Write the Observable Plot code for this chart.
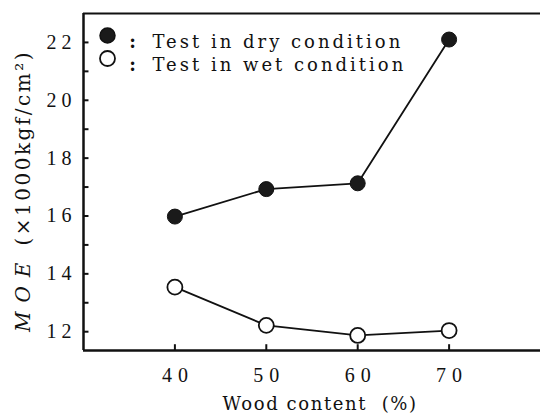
<!DOCTYPE html>
<html>
<head>
<meta charset="utf-8">
<script src="https://cdn.jsdelivr.net/npm/d3@7"></script>
<script src="https://cdn.jsdelivr.net/npm/@observablehq/plot@0.6"></script>
<style>
  html, body { margin: 0; padding: 0; background: #fff; }
  #chart svg { display: block; }
  g[aria-label="y-axis tick label"] text { letter-spacing: 5px; }
  g[aria-label="x-axis tick label"] text { letter-spacing: 6px; }
  .legend-text text { letter-spacing: 3px; }
  .xlabel text { letter-spacing: 1.6px; }
</style>
</head>
<body>
<div id="chart"></div>
<script>
// Data
const woodContent = [40, 50, 60, 70];
const moeDry = [15.98, 16.93, 17.13, 22.1];
const moeWet = [13.54, 12.22, 11.87, 12.04];
const seriesNames = ["Test in dry condition", "Test in wet condition"];
const xTicks = [40, 50, 60, 70];
const yMajorTicks = [12, 14, 16, 18, 20, 22];
const yMinorTicks = [13, 15, 17, 19, 21];
const xDomain = [30, 80];
const yDomain = [11.35, 23.0];
const xLabel = "Wood content  (%)";

const dry = woodContent.map((x, i) => ({x, y: moeDry[i]}));
const wet = woodContent.map((x, i) => ({x, y: moeWet[i]}));
const yTicksAll = [...yMajorTicks, ...yMinorTicks];

const serif = "'Liberation Serif', 'DejaVu Serif', serif";
const slab = "'DejaVu Serif', serif";
const ink = "#111";

const chart = Plot.plot({
  width: 540,
  height: 416,
  marginLeft: 83,
  marginRight: 0,
  marginTop: 13,
  marginBottom: 66,
  x: {domain: xDomain},
  y: {domain: yDomain},
  style: {fontFamily: serif, fontSize: "20px", color: ink, background: "#fff"},
  marks: [
    // frame lines (left, bottom, top)
    Plot.ruleX([xDomain[0]], {stroke: ink, strokeWidth: 2.5}),
    Plot.ruleY([yDomain[0]], {stroke: ink, strokeWidth: 2.5}),
    Plot.ruleY([yDomain[1]], {stroke: ink, strokeWidth: 2}),
    // inward ticks
    Plot.ruleY(yTicksAll, {y: d => d, x1: xDomain[0], x2: xDomain[0] + 0.6, stroke: ink, strokeWidth: 2}),
    Plot.ruleX(xTicks, {x: d => d, y1: yDomain[0], y2: yDomain[0] + 0.2, stroke: ink, strokeWidth: 2}),
    // tick labels
    Plot.axisY(yMajorTicks, {tickSize: 0, tickPadding: 7, tickFormat: d => String(d), fontSize: 20, label: null}),
    Plot.axisX(xTicks, {tickSize: 0, tickPadding: 17, tickFormat: d => String(d), fontSize: 20, label: null, dx: 3}),
    // series
    Plot.line(dry, {x: "x", y: "y", stroke: ink, strokeWidth: 1.8}),
    Plot.line(wet, {x: "x", y: "y", stroke: ink, strokeWidth: 1.8}),
    Plot.dot(dry, {x: "x", y: "y", r: 7.5, fill: "#1a1a1a", stroke: ink, strokeWidth: 1}),
    Plot.dot(wet, {x: "x", y: "y", r: 7.5, fill: "#fff", stroke: ink, strokeWidth: 1.8}),
    // legend
    Plot.dot([seriesNames[0]], {frameAnchor: "top-left", dx: 24, dy: 22, r: 7.5, fill: "#1a1a1a", stroke: ink}),
    Plot.dot([seriesNames[1]], {frameAnchor: "top-left", dx: 24, dy: 45, r: 7.5, fill: "#fff", stroke: ink, strokeWidth: 1.8}),
    Plot.text([":"], {frameAnchor: "top-left", text: d => d, dx: 49, dy: 22, fontFamily: slab, fontSize: 18, fontWeight: "bold", textAnchor: "middle"}),
    Plot.text([":"], {frameAnchor: "top-left", text: d => d, dx: 49, dy: 45, fontFamily: slab, fontSize: 18, fontWeight: "bold", textAnchor: "middle"}),
    Plot.text([seriesNames[0]], {frameAnchor: "top-left", text: d => d, textAnchor: "start", dx: 69, dy: 22, fontFamily: slab, fontSize: 18, className: "legend-text"}),
    Plot.text([seriesNames[1]], {frameAnchor: "top-left", text: d => d, textAnchor: "start", dx: 69, dy: 45, fontFamily: slab, fontSize: 18, className: "legend-text"}),
    // x axis label
    Plot.text([xLabel], {frameAnchor: "bottom", text: d => d, dx: 8, dy: 59, fontFamily: slab, fontSize: 18, className: "xlabel"})
  ]
});

const svg = d3.select(chart);
// y axis label with italic MOE
const t = svg.append("text")
  .attr("transform", "translate(24,191) rotate(-90)")
  .attr("text-anchor", "middle")
  .attr("dominant-baseline", "middle")
  .attr("font-family", slab)
  .attr("font-size", 20)
  .attr("letter-spacing", "2.5px")
  .attr("fill", ink);
t.append("tspan").attr("font-style", "italic").attr("letter-spacing", "9px").text("MOE");
t.append("tspan").attr("dx", 8).text("(×1000kgf/cm²)");

document.getElementById("chart").appendChild(chart);
</script>
</body>
</html>
